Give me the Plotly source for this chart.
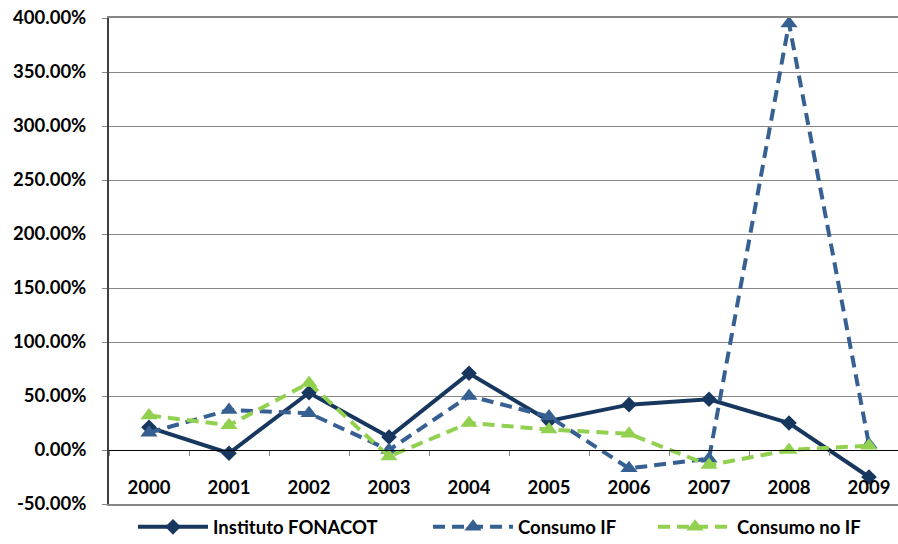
import plotly.graph_objects as go

years = ["2000", "2001", "2002", "2003", "2004", "2005", "2006", "2007", "2008", "2009"]
fonacot = [21, -3, 53, 12, 71, 27, 42, 47, 25, -25]
consumo_if = [16, 37, 34, 0, 50, 31, -17, -8, 395, 5]
consumo_no_if = [32, 23, 62, -6, 25, 19, 15, -14, 0, 4]

y_ticks = [-50, 0, 50, 100, 150, 200, 250, 300, 350, 400]
y_labels = [f"{v:.2f}%" for v in y_ticks]

FONT = "Lato"
FS = 18.5
fig = go.Figure()

fig.add_trace(go.Scatter(
    x=years, y=fonacot, name="Instituto FONACOT", mode="lines+markers",
    line=dict(color="#17375E", width=4),
    marker=dict(symbol="diamond", size=12, color="#17375E"),
    legend="legend",
))
fig.add_trace(go.Scatter(
    x=years, y=consumo_if, name="Consumo IF", mode="lines+markers",
    line=dict(color="#376092", width=4, dash="12px,7px"),
    marker=dict(symbol="triangle-up", size=15, color="#376092"),
    legend="legend2",
))
fig.add_trace(go.Scatter(
    x=years, y=consumo_no_if, name="Consumo no IF", mode="lines+markers",
    line=dict(color="#92D050", width=4, dash="12px,7px"),
    marker=dict(symbol="triangle-up", size=15, color="#92D050"),
    legend="legend3",
))
# frame axis (top/bottom border)
fig.add_trace(go.Scatter(x=years, y=[None]*len(years), xaxis="x2", showlegend=False,
                         hoverinfo="skip", mode="lines"))

ymin, ymax = y_ticks[0], y_ticks[-1]
zero_pos = (0 - ymin) / (ymax - ymin)
xr = [-0.5, -0.5 + 789 / 80]

def leg(xpx, iw):
    return dict(orientation="h", x=(xpx - 109) / 789, xanchor="left", y=-0.048, yanchor="middle",
                font=dict(family=FONT, size=FS, color="black", weight="bold"),
                itemwidth=iw, bgcolor="rgba(0,0,0,0)")

fig.update_layout(
    width=898, height=544,
    margin=dict(l=109, r=0, t=18, b=40, autoexpand=False),
    paper_bgcolor="white", plot_bgcolor="white",
    font=dict(family=FONT, size=FS, color="black", weight="bold"),
    showlegend=True,
    legend=leg(133, 70),
    legend2=leg(428, 80),
    legend3=leg(653, 74),
    xaxis=dict(
        type="category", range=xr, anchor="free", position=zero_pos,
        tickson="boundaries", ticks="outside", ticklen=5, tickcolor="#868686",
        showline=True, linecolor="black", linewidth=1,
        showgrid=False, zeroline=False, automargin=False,
        ticklabelstandoff=21,
        tickfont=dict(family=FONT, size=FS, color="black", weight="bold"),
    ),
    xaxis2=dict(
        type="category", range=xr, overlaying="x", anchor="y", side="bottom",
        showline=True, mirror=True, linecolor="#868686", linewidth=2,
        showticklabels=False, ticks="", showgrid=False, zeroline=False, automargin=False,
    ),
    yaxis=dict(
        range=[ymin, ymax], tickmode="array", tickvals=y_ticks, ticktext=y_labels,
        showgrid=True, gridcolor="#868686", gridwidth=1,
        showline=True, linecolor="#404040", linewidth=2,
        ticks="outside", ticklen=5, tickcolor="#868686",
        zeroline=False, automargin=False, ticklabelstandoff=12,
        tickfont=dict(family=FONT, size=FS, color="black", weight="bold"),
    ),
    hovermode=False,
)

fig.write_html("out.html", config={"displayModeBar": False},
               post_script="document.body.style.margin='0';")
